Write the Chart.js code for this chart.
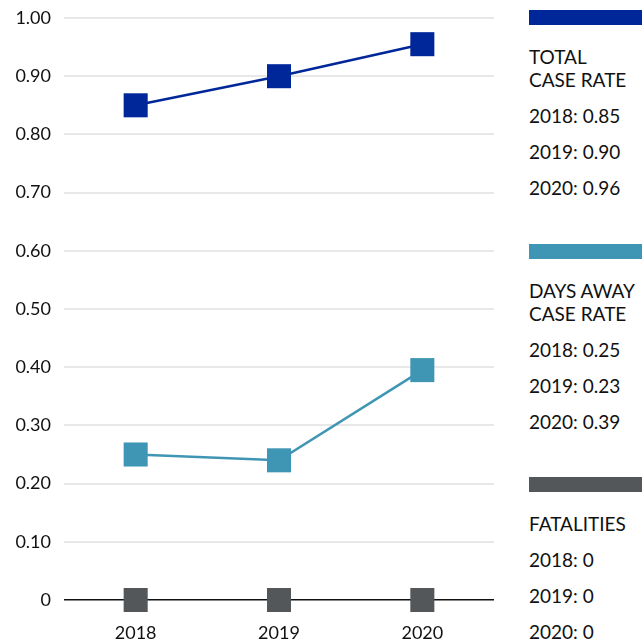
<!DOCTYPE html>
<html>
<head>
<meta charset="utf-8">
<script src="https://cdn.jsdelivr.net/npm/chart.js@4/dist/chart.umd.min.js"></script>
<style>
  html, body { margin: 0; padding: 0; background: #fff; overflow: hidden; }
  body { width: 642px; height: 641px; position: relative; font-family: Lato, "Noto Sans", sans-serif; color: #111; }
  #wrap { position: absolute; left: 0; top: 0; width: 494px; height: 641px; }
  .legend { position: absolute; left: 529px; width: 140px; font-size: 19px; line-height: 23px; }
  .legend .bar { height: 15px; width: 140px; }
  .legend .title { margin-top: 20px; }
  .legend .row { margin-top: 13px; }
</style>
</head>
<body>
<div id="wrap"><canvas id="chart"></canvas></div>
<div id="legend"></div>
<script>
const years = ['2018', '2019', '2020'];
const totalCaseRate = [0.85, 0.90, 0.955];
const daysAwayRate = [0.25, 0.24, 0.395];
const fatalities = [0, 0, 0];
const yTicks = [0, 0.1, 0.2, 0.3, 0.4, 0.5, 0.6, 0.7, 0.8, 0.9, 1.0];

const series = [
  {name: ['TOTAL', 'CASE RATE'], data: totalCaseRate, shown: ['0.85', '0.90', '0.96'], color: '#00279a', top: 10},
  {name: ['DAYS AWAY', 'CASE RATE'], data: daysAwayRate, shown: ['0.25', '0.23', '0.39'], color: '#3f96b4', top: 244},
  {name: ['FATALITIES'], data: fatalities, shown: ['0', '0', '0'], color: '#53575a', top: 477}
];

// html legend on the right
const legendEl = document.getElementById('legend');
series.forEach(s => {
  const box = document.createElement('div');
  box.className = 'legend';
  box.style.top = s.top + 'px';
  let html = '<div class="bar" style="background:' + s.color + '"></div>';
  html += '<div class="title">' + s.name.join('<br>') + '</div>';
  years.forEach((y, i) => { html += '<div class="row">' + y + ': ' + s.shown[i] + '</div>'; });
  box.innerHTML = html;
  legendEl.appendChild(box);
});

const font = {family: 'Lato, "Noto Sans", sans-serif', size: 18};

new Chart(document.getElementById('chart'), {
  type: 'line',
  data: {
    labels: years,
    datasets: series.map(s => ({
      label: s.name.join(' '),
      data: s.data,
      borderColor: s.color,
      backgroundColor: s.color,
      borderWidth: 2.5,
      showLine: s.data !== fatalities,
      pointStyle: 'rect',
      pointRadius: 17,
      pointHoverRadius: 17,
      pointBorderWidth: 0,
      tension: 0,
      clip: false
    }))
  },
  options: {
    responsive: true,
    maintainAspectRatio: false,
    animation: false,
    layout: {autoPadding: false, padding: {top: 18, right: 0, left: 0, bottom: 0}},
    plugins: {legend: {display: false}, tooltip: {enabled: false}},
    scales: {
      x: {
        offset: true,
        grid: {display: false, drawTicks: false},
        border: {display: false},
        ticks: {color: '#111', font: font, padding: 22},
        afterFit: scale => { scale.height = 41; }
      },
      y: {
        min: 0,
        max: 1,
        afterBuildTicks: scale => { scale.ticks = yTicks.map(v => ({value: v})); },
        grid: {
          drawTicks: false,
          color: ctx => ctx.tick && ctx.tick.value === 0 ? '#111' : '#e8e8e8',
          lineWidth: ctx => ctx.tick && ctx.tick.value === 0 ? 1.5 : 2
        },
        border: {display: false},
        ticks: {
          color: '#111',
          font: font,
          padding: 13,
          callback: v => v === 0 ? '0' : v.toFixed(2)
        },
        afterFit: scale => {
          scale.width = 64;
          scale.paddingTop = 0;
          scale.paddingBottom = 0;
        }
      }
    }
  }
});
</script>
</body>
</html>
